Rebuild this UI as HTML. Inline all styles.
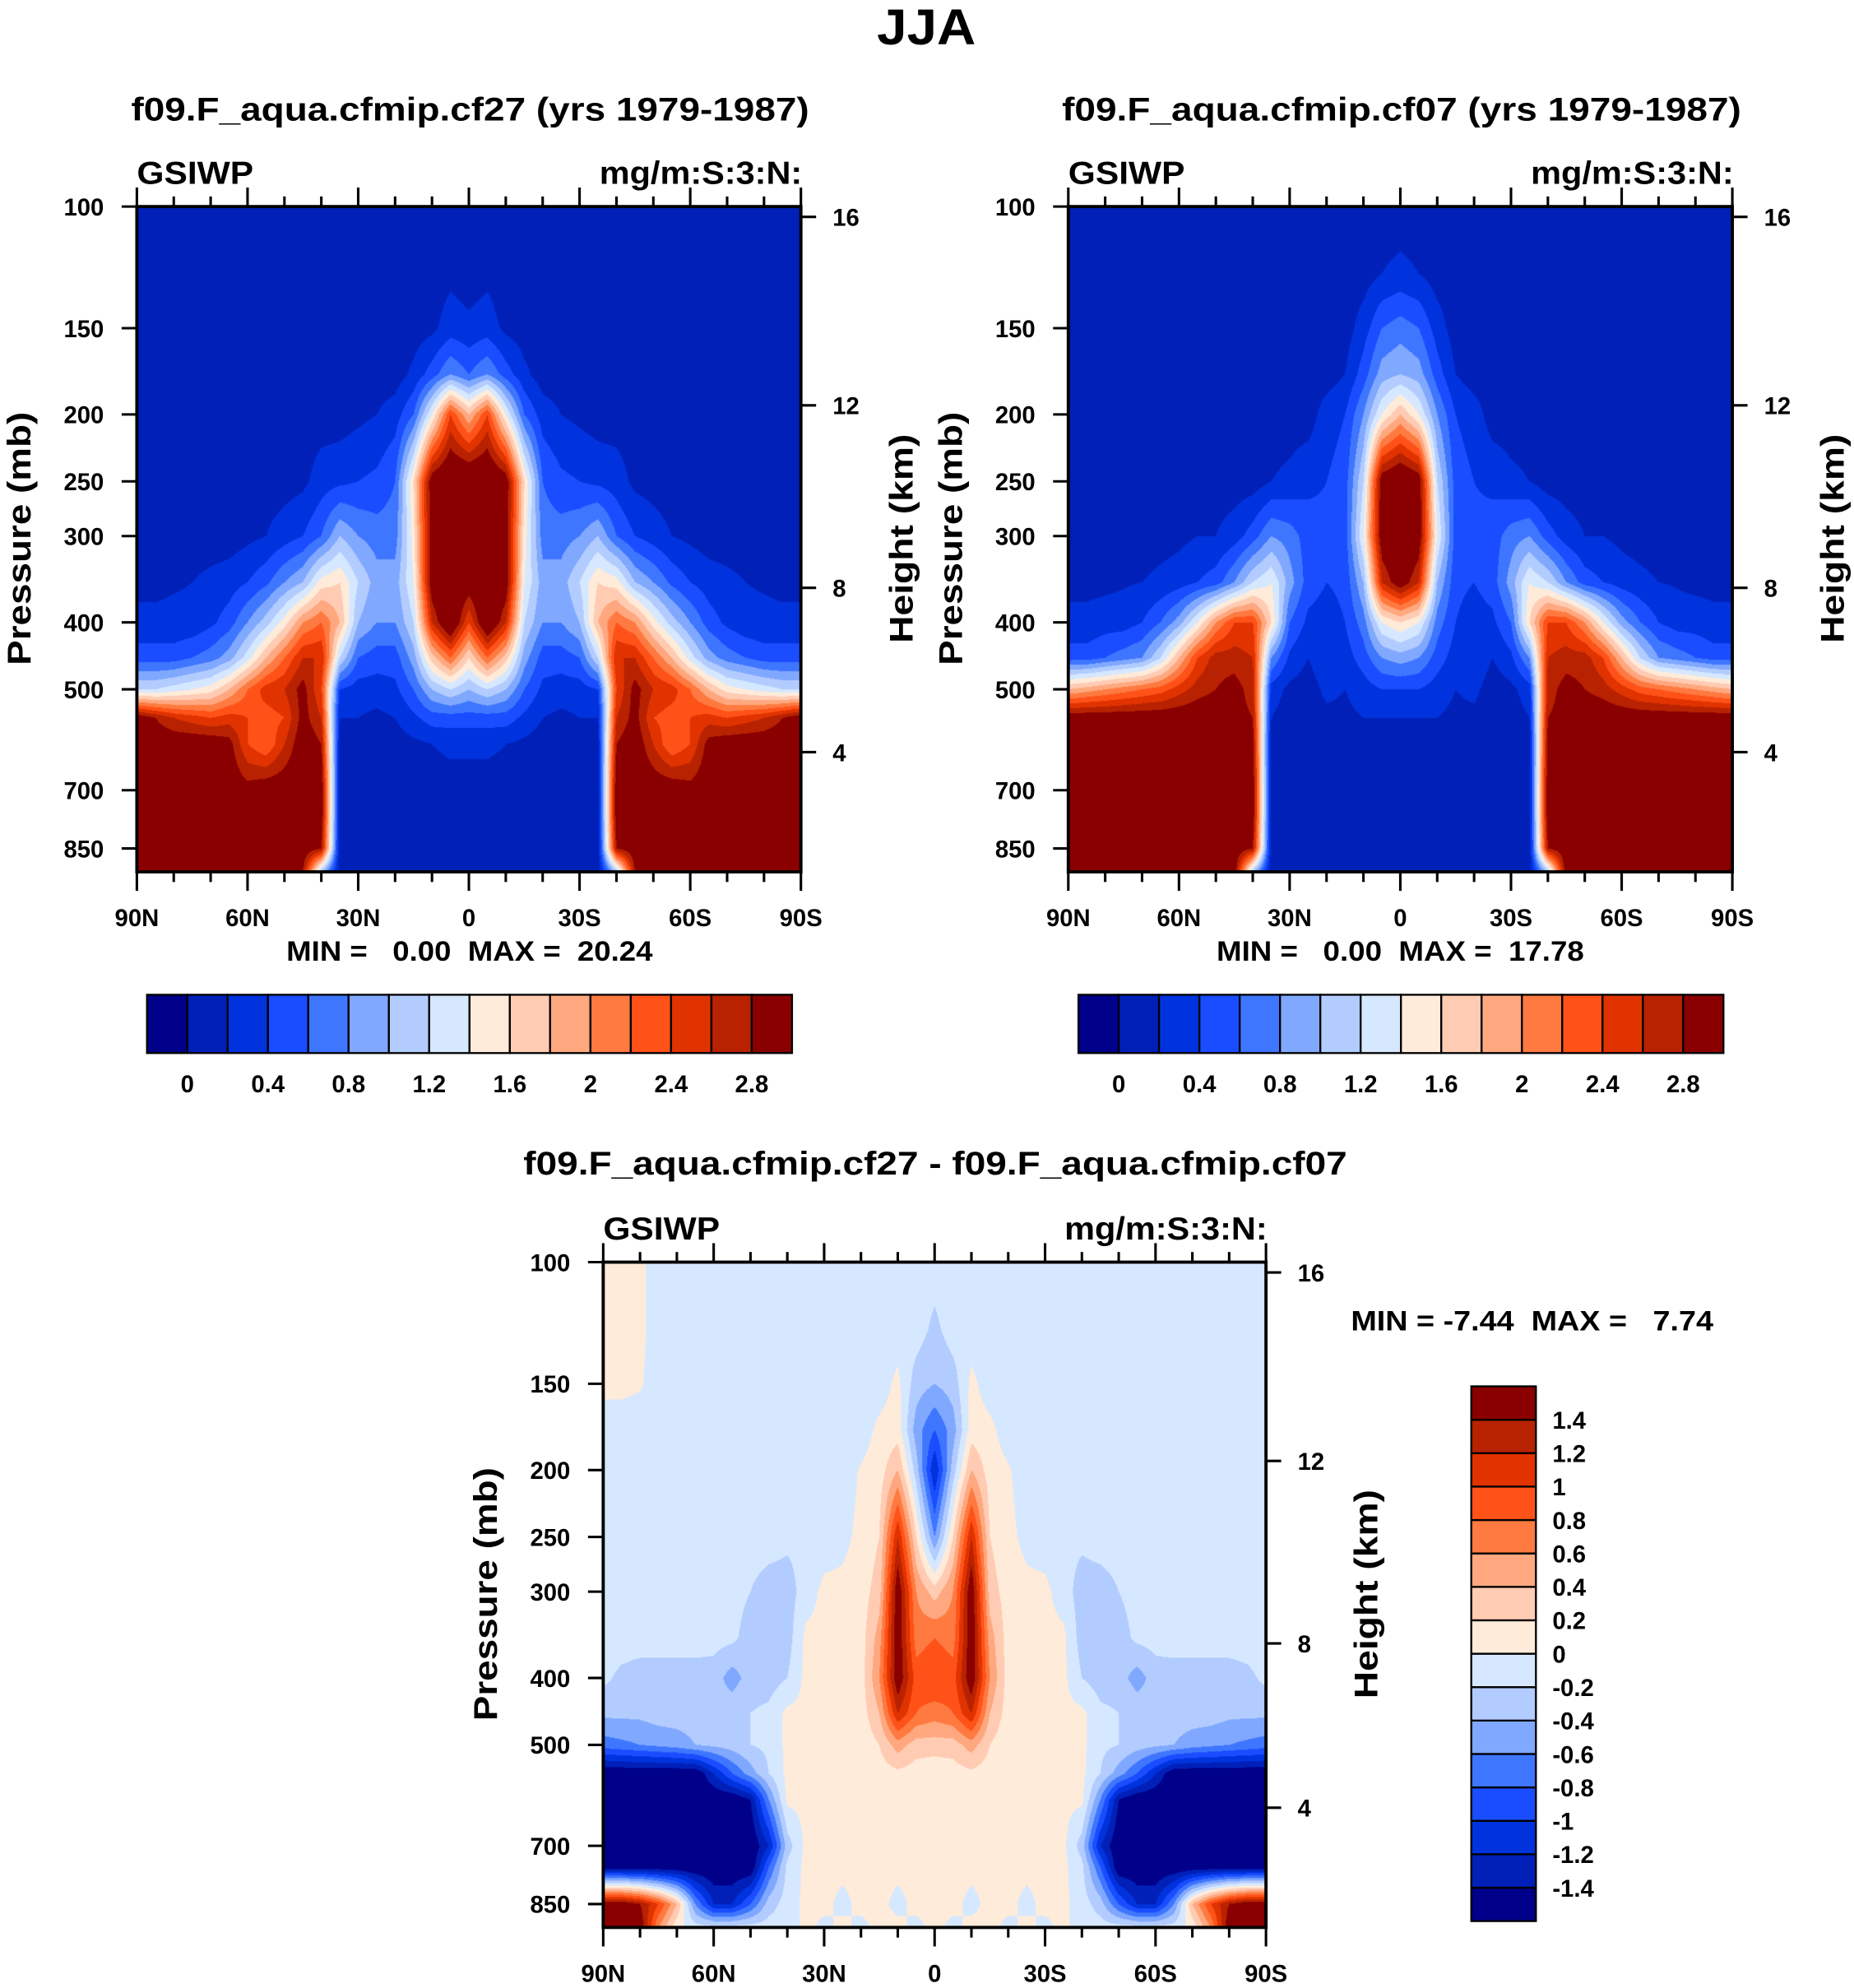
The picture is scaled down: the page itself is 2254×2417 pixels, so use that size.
<!DOCTYPE html>
<html><head><meta charset="utf-8">
<style>
html,body{margin:0;padding:0;background:#fff;overflow:hidden;}
body{width:2254px;height:2417px;}
#stage{position:absolute;left:0;top:0;width:1463px;height:1569px;transform:scale(1.54067);transform-origin:0 0;}
canvas{position:absolute;}
svg{position:absolute;left:0;top:0;}
text{font-family:"Liberation Sans",sans-serif;font-weight:bold;fill:#000;}
</style></head>
<body>
<div id="stage">
<canvas id="c1" width="807" height="809" style="left:108px;top:163px;width:524px;height:525px"></canvas>
<canvas id="c2" width="807" height="809" style="left:843px;top:163px;width:524px;height:525px"></canvas>
<canvas id="c3" width="806" height="809" style="left:476px;top:996px;width:523px;height:525px"></canvas>
<svg id="ov" width="1463" height="1569" viewBox="0 0 1463 1569">
<text x="731" y="35" font-size="40" text-anchor="middle" textLength="78" lengthAdjust="spacingAndGlyphs">JJA</text>
<text x="371" y="95" font-size="26" text-anchor="middle" textLength="535" lengthAdjust="spacingAndGlyphs">f09.F_aqua.cfmip.cf27 (yrs 1979-1987)</text>
<text x="1106" y="95" font-size="26" text-anchor="middle" textLength="536" lengthAdjust="spacingAndGlyphs">f09.F_aqua.cfmip.cf07 (yrs 1979-1987)</text>
<text x="738" y="927" font-size="26" text-anchor="middle" textLength="650" lengthAdjust="spacingAndGlyphs">f09.F_aqua.cfmip.cf27 - f09.F_aqua.cfmip.cf07</text>
<text x="226" y="758" font-size="22" textLength="289" lengthAdjust="spacingAndGlyphs" xml:space="preserve">MIN =   0.00  MAX =  20.24</text>
<text x="960" y="758" font-size="22" textLength="290" lengthAdjust="spacingAndGlyphs" xml:space="preserve">MIN =   0.00  MAX =  17.78</text>
<text x="1066" y="1050" font-size="22" textLength="286" lengthAdjust="spacingAndGlyphs" xml:space="preserve">MIN = -7.44  MAX =   7.74</text>
</svg>
</div>
<script>
// ---- data ----
const pressureLevels = [100,125,150,175,200,250,300,350,400,450,500,550,600,700,750,850,920];
const latHalf = [90,85,80,75,70,65,60,55,50,45,40,35,30,25,20,15,10,5,0];
// panel 1 (cf27), rows = pressureLevels, cols = latHalf (mirrored to SH)
const cf27Half = [
[0.1,0.1,0.1,0.1,0.1,0.1,0.1,0.1,0.1,0.1,0.1,0.1,0.1,0.1,0.1,0.1,0.1,0.1,0.1],
[0.1,0.1,0.1,0.1,0.1,0.1,0.1,0.1,0.1,0.1,0.1,0.1,0.1,0.1,0.1,0.1,0.1,0.15,0.1],
[0.1,0.1,0.1,0.1,0.1,0.1,0.1,0.1,0.1,0.1,0.1,0.1,0.1,0.1,0.1,0.1,0.15,0.3,0.25],
[0.1,0.1,0.1,0.1,0.1,0.1,0.1,0.1,0.1,0.1,0.1,0.1,0.1,0.1,0.1,0.25,0.5,0.8,0.6],
[0.1,0.1,0.1,0.1,0.1,0.1,0.1,0.1,0.1,0.1,0.1,0.1,0.15,0.2,0.3,0.6,1.4,2.4,1.8],
[0.1,0.1,0.1,0.1,0.1,0.1,0.1,0.1,0.12,0.15,0.3,0.35,0.4,0.45,0.6,1.6,3,3.2,3.2],
[0.1,0.1,0.1,0.1,0.1,0.1,0.15,0.2,0.3,0.4,0.6,1.0,0.8,0.7,0.7,1.5,3,3.2,3.2],
[0.15,0.15,0.18,0.2,0.25,0.3,0.4,0.55,0.8,1.0,1.5,1.6,1.2,0.9,0.9,1.4,3,3.2,3],
[0.25,0.25,0.25,0.25,0.35,0.5,0.8,1.1,1.5,2.0,2.2,1.8,1.0,0.8,0.8,1.2,2.6,3.2,2.4],
[0.5,0.5,0.5,0.6,0.7,0.9,1.3,1.8,2.2,2.6,2.6,1.2,0.6,0.5,0.5,0.9,1.7,2.2,1.6],
[1.2,1.2,1.3,1.4,1.5,1.8,2.2,2.5,2.6,2.9,2.4,0.4,0.3,0.3,0.35,0.6,1.0,1.2,1.0],
[3.0,2.8,2.6,2.5,2.4,2.5,2.4,2.3,2.4,2.9,2.6,0.2,0.2,0.15,0.2,0.35,0.5,0.5,0.5],
[3,3,3,3,3,2.9,2.4,2.2,2.6,3,2.8,0.15,0.1,0.1,0.1,0.15,0.2,0.25,0.25],
[3,3,3,3,3,3,2.9,3,3,3,3,0.1,0.1,0.1,0.1,0.1,0.1,0.1,0.1],
[3,3,3,3,3,3,3,3,3,3,3,0.1,0.1,0.1,0.1,0.1,0.1,0.1,0.1],
[3,3,3,3,3,3,3,3,3,3,2.8,0.1,0.1,0.1,0.1,0.1,0.1,0.1,0.1],
[3,3,3,3,3,3,3,3,3,2.8,1.0,0.1,0.1,0.1,0.1,0.1,0.1,0.1,0.1]];
// panel 2 (cf07)
const cf07Half = [
[0.1,0.1,0.1,0.1,0.1,0.1,0.1,0.1,0.1,0.1,0.1,0.1,0.1,0.1,0.1,0.1,0.1,0.1,0.1],
[0.1,0.1,0.1,0.1,0.1,0.1,0.1,0.1,0.1,0.1,0.1,0.1,0.1,0.1,0.1,0.1,0.1,0.2,0.25],
[0.1,0.1,0.1,0.1,0.1,0.1,0.1,0.1,0.1,0.1,0.1,0.1,0.1,0.1,0.1,0.1,0.3,0.6,0.7],
[0.1,0.1,0.1,0.1,0.1,0.1,0.1,0.1,0.1,0.1,0.1,0.1,0.1,0.1,0.1,0.2,0.5,0.9,1.0],
[0.1,0.1,0.1,0.1,0.1,0.1,0.1,0.1,0.1,0.1,0.1,0.1,0.1,0.1,0.3,0.4,0.8,1.4,1.8],
[0.1,0.1,0.1,0.1,0.1,0.1,0.1,0.1,0.1,0.1,0.1,0.2,0.25,0.35,0.4,0.5,1.2,3,3.2],
[0.1,0.1,0.1,0.1,0.1,0.12,0.15,0.2,0.2,0.3,0.5,0.8,0.7,0.5,0.45,0.5,1.4,3,3.2],
[0.15,0.15,0.15,0.18,0.2,0.25,0.3,0.4,0.5,0.8,1.2,1.4,0.9,0.5,0.4,0.45,1.0,2.6,3],
[0.25,0.25,0.3,0.3,0.4,0.6,0.9,1.4,2.0,2.4,2.4,1.6,0.6,0.35,0.3,0.4,0.7,1.4,1.6],
[0.5,0.5,0.6,0.7,0.8,1.2,1.8,2.4,2.7,2.7,2.6,0.8,0.35,0.2,0.35,0.3,0.5,0.8,0.9],
[1.8,1.9,2.0,2.1,2.2,2.3,2.5,2.7,2.8,2.9,2.7,0.3,0.15,0.1,0.25,0.2,0.3,0.4,0.4],
[3,3,3,3,3,3,3,3,3,2.9,2.8,0.2,0.1,0.1,0.15,0.15,0.2,0.2,0.2],
[3,3,3,3,3,3,3,3,3,3,2.9,0.1,0.1,0.1,0.1,0.1,0.15,0.15,0.15],
[3,3,3,3,3,3,3,3,3,3,3,0.1,0.1,0.1,0.1,0.1,0.1,0.1,0.1],
[3,3,3,3,3,3,3,3,3,3,3,0.1,0.1,0.1,0.1,0.1,0.1,0.1,0.1],
[3,3,3,3,3,3,3,3,3,3,2.8,0.1,0.1,0.1,0.1,0.1,0.1,0.1,0.1],
[3,3,3,3,3,3,3,3,3,3,1.0,0.1,0.1,0.1,0.1,0.1,0.1,0.1,0.1]];
// panel 3 (difference), northern half
const diffNorth = [
[0.05,0.05,0.05,-0.1,-0.1,-0.1,-0.1,-0.1,-0.1,-0.1,-0.1,-0.1,-0.1,-0.1,-0.1,-0.1,-0.1,-0.1,-0.1],
[0.05,0.05,0.05,-0.1,-0.1,-0.1,-0.1,-0.1,-0.1,-0.1,-0.1,-0.1,-0.1,-0.1,-0.1,-0.1,-0.1,-0.1,-0.25],
[0.05,0.05,0.02,-0.1,-0.1,-0.1,-0.1,-0.1,-0.1,-0.1,-0.1,-0.1,-0.1,-0.1,-0.1,-0.1,0.05,-0.3,-0.4],
[-0.1,-0.1,-0.1,-0.1,-0.1,-0.1,-0.1,-0.1,-0.1,-0.1,-0.1,-0.1,-0.1,-0.1,-0.1,0.05,0.1,-0.5,-0.8],
[-0.1,-0.1,-0.1,-0.1,-0.1,-0.1,-0.1,-0.1,-0.1,-0.1,-0.1,-0.1,-0.1,-0.1,0.02,0.1,0.4,-0.3,-1.2],
[-0.1,-0.1,-0.1,-0.1,-0.1,-0.1,-0.1,-0.1,-0.1,-0.1,-0.15,-0.15,-0.1,-0.05,0.05,0.2,1.2,0.2,-0.6],
[-0.1,-0.1,-0.1,-0.1,-0.1,-0.1,-0.1,-0.12,-0.2,-0.3,-0.3,-0.1,0.05,0.05,0.1,0.3,1.6,0.6,0.3],
[-0.1,-0.1,-0.1,-0.1,-0.1,-0.1,-0.12,-0.15,-0.3,-0.3,-0.3,0.05,0.05,0.05,0.1,0.5,1.6,0.7,0.8],
[-0.15,-0.25,-0.3,-0.3,-0.3,-0.3,-0.3,-0.5,-0.3,-0.3,-0.2,0.05,0.05,0.05,0.1,0.6,1.6,0.9,1.0],
[-0.35,-0.35,-0.35,-0.3,-0.3,-0.3,-0.3,-0.25,-0.2,-0.15,0.05,0.05,0.05,0.05,0.1,0.4,1.2,0.8,0.7],
[-0.7,-0.65,-0.6,-0.55,-0.5,-0.4,-0.35,-0.3,-0.2,-0.15,0.05,0.05,0.05,0.05,0.05,0.2,0.5,0.3,0.3],
[-1.6,-1.6,-1.6,-1.6,-1.6,-1.6,-1.2,-0.8,-0.5,-0.2,0.05,0.05,0.05,0.05,0.05,0.1,0.15,0.1,0.05],
[-1.6,-1.6,-1.6,-1.6,-1.6,-1.6,-1.6,-1.6,-1.4,-0.6,0.05,0.05,0.05,0.05,0.05,0.05,0.05,0.05,0.05],
[-1.6,-1.6,-1.6,-1.6,-1.6,-1.6,-1.6,-1.6,-1.6,-1.2,-0.3,0.05,0.05,0.05,0.05,0.05,0.05,0.05,0.05],
[-1.6,-1.6,-1.6,-1.6,-1.6,-1.6,-1.6,-1.6,-1.6,-0.8,-0.15,0.05,0.05,0.05,0.05,0.05,0.05,0.05,0.05],
[1.6,1.6,1.4,1.0,0.4,-0.6,-1.2,-1.2,-0.8,-0.3,-0.1,0.05,0.05,-0.05,0.05,0.05,-0.05,0.05,0.05],
[1.6,1.6,1.6,0.6,0.05,-0.1,-0.1,-0.1,-0.1,-0.1,-0.1,0.05,-0.05,0.05,-0.05,0.05,0.05,-0.05,0.05]];
// southern-hemisphere top rows differ (no patch near pole)
const diffSouthTop = [
[-0.1,-0.1,-0.1],
[-0.1,-0.1,-0.1],
[-0.1,-0.1,-0.1]];
const absLevels = [0,0.2,0.4,0.6,0.8,1.0,1.2,1.4,1.6,1.8,2.0,2.2,2.4,2.6,2.8];
const absTickLabels = ["0","0.4","0.8","1.2","1.6","2","2.4","2.8"];
const diffLevels = [-1.4,-1.2,-1.0,-0.8,-0.6,-0.4,-0.2,0,0.2,0.4,0.6,0.8,1.0,1.2,1.4];
const diffTickLabels = ["-1.4","-1.2","-1","-0.8","-0.6","-0.4","-0.2","0","0.2","0.4","0.6","0.8","1","1.2","1.4"];
const colors = ["#00008a","#0020b8","#0033de","#1a4dff","#3f76ff","#80a8ff","#b3ccff","#d6e8ff","#ffebd9","#ffccb3","#ffa880","#ff7a40","#ff5219","#e03300","#b82200","#8a0000"];
const pressureTicks = [100,150,200,250,300,400,500,700,850];
const heightTicks = [16,12,8,4];
const heightTickPressure = [103.5,194,356.5,616.6];
const latTicks = [90,60,30,0,-30,-60,-90];
const latTickLabels = ["90N","60N","30N","0","30S","60S","90S"];

// ---- helpers ----
function mirror(half){return half.map(r=>r.concat(r.slice(0,-1).reverse()));}
const cf27 = mirror(cf27Half);
const cf07 = mirror(cf07Half);
const diffField = diffNorth.map((r,i)=>{
  const s = r.slice();
  if(i<diffSouthTop.length){ for(let k=0;k<diffSouthTop[i].length;k++) s[k]=diffSouthTop[i][k]; }
  return r.concat(s.slice(0,-1).reverse());
});
const logP = pressureLevels.map(p=>Math.log10(p));
function yOfP(p,y0){return y0+545*Math.log10(p/100);}
function hex(c){return [parseInt(c.substr(1,2),16),parseInt(c.substr(3,2),16),parseInt(c.substr(5,2),16)];}
const rgb = colors.map(hex);
function sample(field,lat,p){
  let fi=(90-lat)/5; if(fi<0)fi=0; if(fi>36)fi=36;
  const i0=Math.min(35,Math.floor(fi)), tx=fi-i0;
  const lp=Math.log10(p);
  let j0=0; while(j0<logP.length-2 && lp>logP[j0+1]) j0++;
  let ty=(lp-logP[j0])/(logP[j0+1]-logP[j0]); ty=Math.max(0,Math.min(1,ty));
  const a=field[j0][i0],b=field[j0][i0+1],c=field[j0+1][i0],d=field[j0+1][i0+1];
  return (a*(1-tx)+b*tx)*(1-ty)+(c*(1-tx)+d*tx)*ty;
}
function level(v,levels){let k=0;while(k<levels.length&&v>=levels[k])k++;return k;}
function drawField(id,field,levels){
  const cv=document.getElementById(id),ctx=cv.getContext('2d');
  const W=cv.width,H=cv.height,img=ctx.createImageData(W,H);
  for(let py=0;py<H;py++){
    const yd=(py+0.5)/H*525; const p=100*Math.pow(10,yd/545);
    for(let px=0;px<W;px++){
      const lat=90-(px+0.5)/W*180;
      const c=rgb[level(sample(field,lat,p),levels)];
      const o=(py*W+px)*4; img.data[o]=c[0];img.data[o+1]=c[1];img.data[o+2]=c[2];img.data[o+3]=255;
    }
  }
  ctx.putImageData(img,0,0);
}
drawField('c1',cf27,absLevels);
drawField('c2',cf07,absLevels);
drawField('c3',diffField,diffLevels);

// ---- axes ----
const NS='http://www.w3.org/2000/svg';
const ov=document.getElementById('ov');
function el(tag,attrs,txt){const e=document.createElementNS(NS,tag);for(const k in attrs)e.setAttribute(k,attrs[k]);if(txt!==undefined)e.textContent=txt;ov.appendChild(e);return e;}
function axes(pfx,x0,y0,w,h){
  const xOf=lat=>x0+(90-lat)/180*w;
  let e=el('rect',{x:x0,y:y0,width:w,height:h,fill:'none',stroke:'#000','stroke-width':2.5});
  
  
  for(let lat=90;lat>=-90;lat-=10){
    const major=lat%30===0, len=major?15:8, x=xOf(lat);
    e=el('line',{x1:x,y1:y0,x2:x,y2:y0-len,stroke:'#000','stroke-width':2});
    
    
    e=el('line',{x1:x,y1:y0+h,x2:x,y2:y0+h+len,stroke:'#000','stroke-width':2});
    
    
  }
  latTicks.forEach((lat,i)=>{
    e=el('text',{x:xOf(lat),y:y0+h+43,'font-size':19,'text-anchor':'middle'},latTickLabels[i]);
    
    
  });
  pressureTicks.forEach(p=>{
    const y=yOfP(p,y0);
    e=el('line',{x1:x0-12,y1:y,x2:x0,y2:y,stroke:'#000','stroke-width':2});
    
    
    e=el('text',{x:x0-26,y:y+7,'font-size':19,'text-anchor':'end'},String(p));
    
    
  });
  heightTicks.forEach((z,i)=>{
    const y=yOfP(heightTickPressure[i],y0);
    e=el('line',{x1:x0+w,y1:y,x2:x0+w+12,y2:y,stroke:'#000','stroke-width':2});
    
    
    e=el('text',{x:x0+w+25,y:y+7,'font-size':19},String(z));
    
    
  });
  e=el('text',{x:x0,y:y0-18,'font-size':25,textLength:92,lengthAdjust:'spacingAndGlyphs'},'GSIWP');
  
  
  e=el('text',{x:x0+w+1-160,y:y0-18,'font-size':25,textLength:160,lengthAdjust:'spacingAndGlyphs'},'mg/m:S:3:N:');
  
  
  const cy=y0+262;
  e=el('text',{x:0,y:0,'font-size':26,'text-anchor':'middle',textLength:200,lengthAdjust:'spacingAndGlyphs',transform:`translate(${x0-84},${cy}) rotate(-90)`},'Pressure (mb)');
  
  
  e=el('text',{x:0,y:0,'font-size':26,'text-anchor':'middle',textLength:165,lengthAdjust:'spacingAndGlyphs',transform:`translate(${x0+w+88},${cy}) rotate(-90)`},'Height (km)');
  
  
}
axes('panel1',108,163,524,525);
axes('panel2',843,163,524,525);
axes('panel3',476,996,523,525);

function hbar(pfx,x0,y0,w,h){
  const bw=w/colors.length;
  colors.forEach((c,i)=>{
    const e=el('rect',{x:x0+i*bw,y:y0,width:bw,height:h,fill:c,stroke:'#000','stroke-width':1.5});
    
    
  });
  absTickLabels.forEach(t=>{
    const k=absLevels.indexOf(parseFloat(t));
    const e=el('text',{x:x0+(k+1)*bw,y:y0+h+31,'font-size':19,'text-anchor':'middle'},t);
    
    
  });
}
hbar('panel1',116,785,509,46);
hbar('panel2',851,785,509,46);
(function(){
  const x0=1161,y0=1094,w=51,h=422,bh=h/colors.length;
  colors.forEach((c,i)=>{
    const e=el('rect',{x:x0,y:y0+h-(i+1)*bh,width:w,height:bh,fill:c,stroke:'#000','stroke-width':1.5});
    
    
  });
  diffTickLabels.forEach((t,k)=>{
    const y=y0+h-(k+1)*bh;
    const e=el('text',{x:x0+w+13,y:y+7,'font-size':19},t);
    
    
  });
})();
</script>
</body></html>
